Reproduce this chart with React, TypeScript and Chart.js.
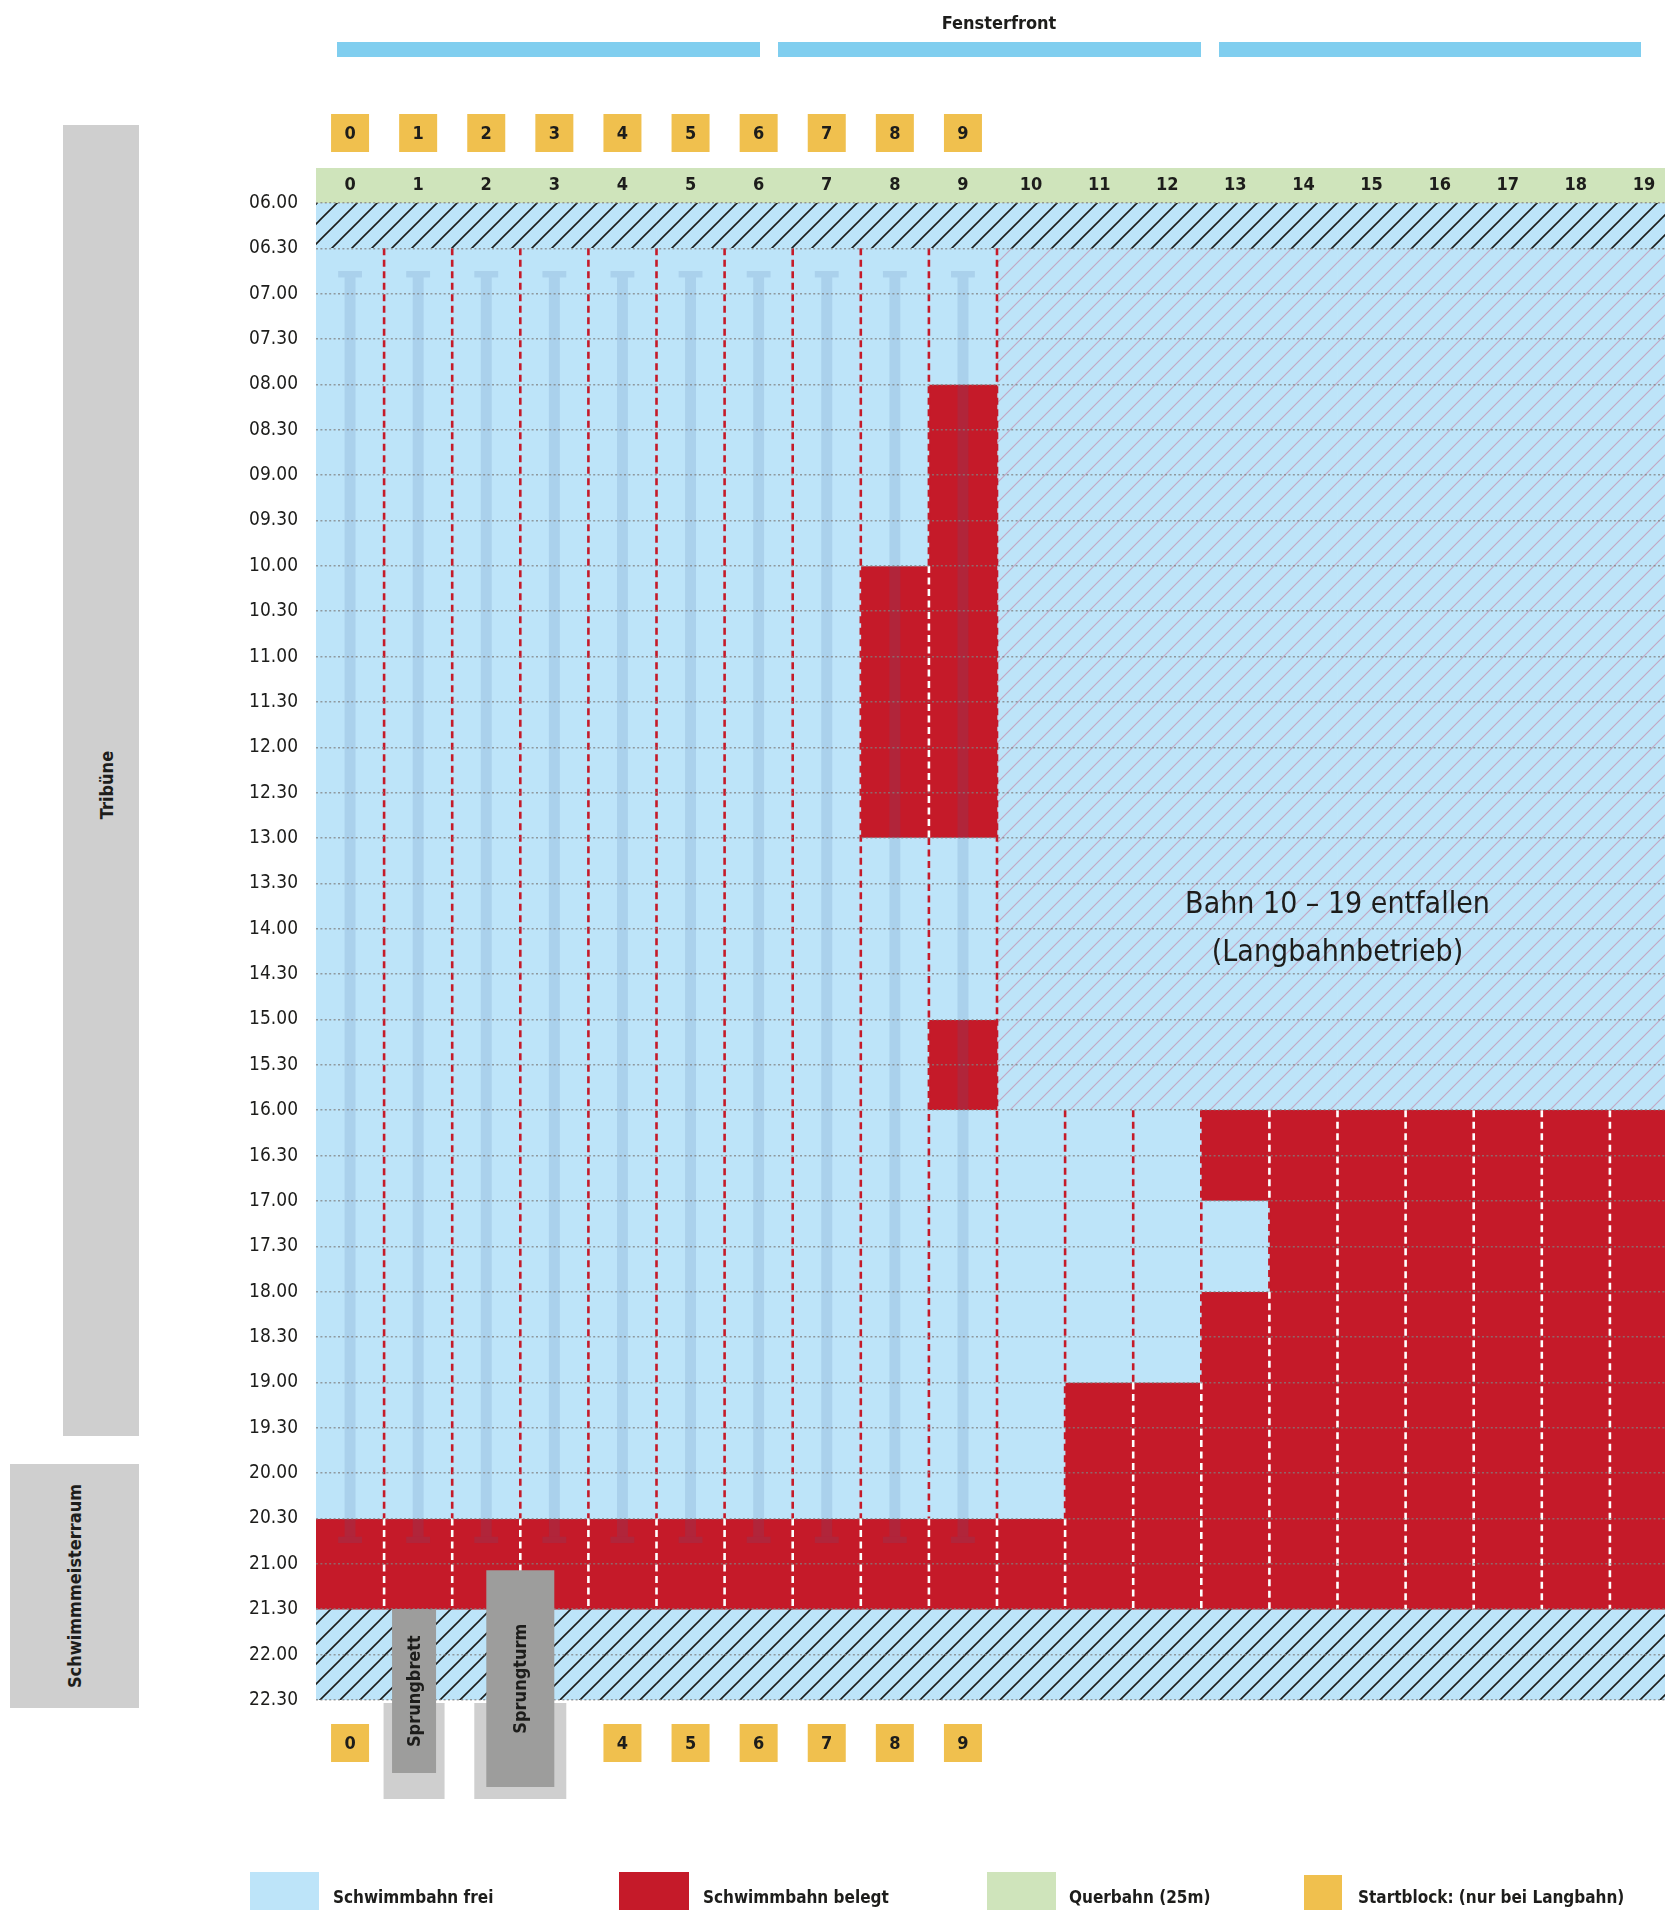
import { useEffect, useRef } from 'react'
import { Chart, registerables } from 'chart.js'

Chart.register(...registerables)

// ─── Data ───────────────────────────────────────────────────────────────────

const LANES = ['0', '1', '2', '3', '4', '5', '6', '7', '8', '9',
  '10', '11', '12', '13', '14', '15', '16', '17', '18', '19']

const TIME_LABELS = [
  '06.00', '06.30', '07.00', '07.30', '08.00', '08.30', '09.00', '09.30',
  '10.00', '10.30', '11.00', '11.30', '12.00', '12.30', '13.00', '13.30',
  '14.00', '14.30', '15.00', '15.30', '16.00', '16.30', '17.00', '17.30',
  '18.00', '18.30', '19.00', '19.30', '20.00', '20.30', '21.00', '21.30',
  '22.00', '22.30',
]
const DAY_START = 6     // 06.00
const DAY_END = 22.5    // 22.30

// [lane, from, to] in hours
const FREE_SLOTS: [number, number, number][] = [
  [0, 6.5, 20.5], [1, 6.5, 20.5], [2, 6.5, 20.5], [3, 6.5, 20.5],
  [4, 6.5, 20.5], [5, 6.5, 20.5], [6, 6.5, 20.5], [7, 6.5, 20.5],
  [8, 6.5, 10], [8, 13, 20.5],
  [9, 6.5, 8], [9, 13, 15], [9, 16, 20.5],
  [10, 16, 20.5], [11, 16, 19], [12, 16, 19], [13, 17, 18],
]

const BUSY_SLOTS: [number, number, number][] = [
  [0, 20.5, 21.5], [1, 20.5, 21.5], [2, 20.5, 21.5], [3, 20.5, 21.5],
  [4, 20.5, 21.5], [5, 20.5, 21.5], [6, 20.5, 21.5], [7, 20.5, 21.5],
  [8, 10, 13], [8, 20.5, 21.5],
  [9, 8, 13], [9, 15, 16], [9, 20.5, 21.5],
  [10, 20.5, 21.5], [11, 19, 21.5], [12, 19, 21.5],
  [13, 16, 17], [13, 18, 21.5],
  [14, 16, 21.5], [15, 16, 21.5], [16, 16, 21.5],
  [17, 16, 21.5], [18, 16, 21.5], [19, 16, 21.5],
]

// pool closed for all lanes
const CLOSED_PERIODS: [number, number][] = [[6, 6.5], [21.5, 22.5]]

// lanes 10–19 dropped during long-course operation
const DROPPED_LANES = [10, 11, 12, 13, 14, 15, 16, 17, 18, 19]
const DROPPED_PERIOD: [number, number] = [6.5, 16]

// floor markings of the long-course lanes (T-ends)
const MARKED_LANES = [0, 1, 2, 3, 4, 5, 6, 7, 8, 9]
const MARKING_FROM = 6.75
const MARKING_TO = 20.77
const MARKING_CAP = 0.07

const STARTBLOCKS_TOP = [0, 1, 2, 3, 4, 5, 6, 7, 8, 9]
const STARTBLOCKS_BOTTOM = [0, 4, 5, 6, 7, 8, 9]

const DIVING = [
  { label: 'Sprungbrett', lane: 0.94, from: 21.5 },
  { label: 'Sprungturm', lane: 2.5, from: 21.07 },
]

const LEGEND_LABELS = ['Schwimmbahn frei', 'Schwimmbahn belegt', 'Querbahn (25m)', 'Startblock: (nur bei Langbahn)']

// ─── Styles ─────────────────────────────────────────────────────────────────

const FONT = '"Liberation Sans Narrow", "DejaVu Sans Condensed", "Arial Narrow", sans-serif'
const FREE_COLOR = '#bde4f9'
const BUSY_COLOR = '#c51a29'
const QUER_COLOR = '#cfe4bb'
const BLOCK_COLOR = '#f0c04e'
const WINDOW_COLOR = '#80ceef'
const ROOM_COLOR = '#cfcfcf'
const TEXT_COLOR = '#1d1d1b'
const MARKING_COLOR = 'rgba(70, 100, 160, 0.15)'
const LEGEND_COLORS = [FREE_COLOR, BUSY_COLOR, QUER_COLOR, BLOCK_COLOR]

// ─── Helpers ────────────────────────────────────────────────────────────────

function hatch(bg: string, line: string, width: number): CanvasPattern {
  const c = document.createElement('canvas')
  c.width = 20
  c.height = 20
  const g = c.getContext('2d')!
  g.fillStyle = bg
  g.fillRect(0, 0, 20, 20)
  g.strokeStyle = line
  g.lineWidth = width
  g.beginPath()
  g.moveTo(-2, 22); g.lineTo(22, -2)
  g.moveTo(-2, 2); g.lineTo(2, -2)
  g.moveTo(18, 22); g.lineTo(22, 18)
  g.stroke()
  return g.createPattern(c, 'repeat')!
}

const cells = (rows: [number, number, number][]) =>
  rows.map(([lane, a, b]) => ({ x: LANES[lane], y: [a, b] }))

function laneStatus(lane: number, t: number): 'free' | 'busy' | 'off' {
  const inside = (s: [number, number, number]) => s[0] === lane && t >= s[1] && t < s[2]
  if (BUSY_SLOTS.some(inside)) return 'busy'
  if (FREE_SLOTS.some(inside)) return 'free'
  return 'off'
}

// dashed lane ropes: red over water, white where both neighbours are booked
function laneDividers() {
  const red: { x: number; y: number | null }[] = []
  const white: { x: number; y: number | null }[] = []
  for (let b = 1; b < LANES.length; b++) {
    const x = b - 0.5
    let cur: string | null = null
    let start = 0
    const flush = (end: number) => {
      if (!cur) return
      const arr = cur === 'white' ? white : red
      arr.push({ x, y: start }, { x, y: end }, { x, y: null })
    }
    for (let i = 0; i < TIME_LABELS.length - 1; i++) {
      const t = DAY_START + i / 2
      const l = laneStatus(b - 1, t + 0.25)
      const r = laneStatus(b, t + 0.25)
      const c = l === 'off' && r === 'off' ? null : l === 'busy' && r === 'busy' ? 'white' : 'red'
      if (c !== cur) {
        flush(t)
        cur = c
        start = t
      }
    }
    flush(DAY_END)
  }
  return { red, white }
}

// ─── Decorations drawn on the chart canvas ──────────────────────────────────

const poolDecor = {
  id: 'poolDecor',
  afterDraw(chart: Chart) {
    const { ctx, chartArea } = chart
    const xb = chart.scales.xb
    const y = chart.scales.y
    ctx.save()

    // start blocks
    ctx.font = `bold 18px ${FONT}`
    ctx.textAlign = 'center'
    ctx.textBaseline = 'middle'
    const block = (lane: number, cy: number) => {
      const cx = xb.getPixelForValue(lane)
      ctx.fillStyle = BLOCK_COLOR
      ctx.fillRect(cx - 19, cy - 19, 38, 38)
      ctx.fillStyle = TEXT_COLOR
      ctx.fillText(String(lane), cx, cy + 1)
    }
    STARTBLOCKS_TOP.forEach(l => block(l, chartArea.top - 70))
    STARTBLOCKS_BOTTOM.forEach(l => block(l, chartArea.bottom + 43))

    // diving board + tower
    const sizes = [
      { w: 44, bottom: 73, base: 61 },
      { w: 68, bottom: 87, base: 92 },
    ]
    DIVING.forEach((d, i) => {
      const s = sizes[i]
      const cx = xb.getPixelForValue(d.lane)
      const top = y.getPixelForValue(d.from)
      const bot = chartArea.bottom + s.bottom
      ctx.fillStyle = ROOM_COLOR
      ctx.fillRect(cx - s.base / 2, chartArea.bottom + 3, s.base, 96)
      ctx.fillStyle = '#9d9d9c'
      ctx.fillRect(cx - s.w / 2, top, s.w, bot - top)
      ctx.save()
      ctx.translate(cx, (top + bot) / 2)
      ctx.rotate(-Math.PI / 2)
      ctx.fillStyle = TEXT_COLOR
      ctx.fillText(d.label, 0, 1)
      ctx.restore()
    })

    // note over the dropped lanes
    const mid = DROPPED_LANES.reduce((a, b) => a + b, 0) / DROPPED_LANES.length
    const nx = xb.getPixelForValue(mid)
    const ny = y.getPixelForValue(14)
    ctx.font = `30px ${FONT}`
    ctx.fillStyle = TEXT_COLOR
    ctx.fillText('Bahn 10 – 19 entfallen', nx, ny - 24)
    ctx.fillText('(Langbahnbetrieb)', nx, ny + 24)

    ctx.restore()
  },
}

// ─── Component ──────────────────────────────────────────────────────────────

export default function App() {
  const canvasRef = useRef<HTMLCanvasElement>(null)

  useEffect(() => {
    const canvas = canvasRef.current
    if (!canvas) return

    const closedFill = hatch(FREE_COLOR, '#1d1d1b', 1.6)
    const droppedFill = hatch(FREE_COLOR, 'rgba(196, 128, 160, 0.6)', 1.2)
    const { red, white } = laneDividers()

    const closed = LANES.flatMap((lane) => CLOSED_PERIODS.map(p => ({ x: lane, y: p })))
    const dropped = DROPPED_LANES.map(l => ({ x: LANES[l], y: DROPPED_PERIOD }))

    const cellBar = {
      type: 'bar' as const,
      grouped: false,
      barPercentage: 1,
      categoryPercentage: 1,
      borderWidth: 0,
      order: 10,
    }

    Chart.defaults.font.family = FONT

    const chart = new Chart(canvas, {
      type: 'bar',
      data: {
        labels: LANES,
        datasets: [
          { ...cellBar, label: 'frei', data: cells(FREE_SLOTS), backgroundColor: FREE_COLOR },
          { ...cellBar, label: 'belegt', data: cells(BUSY_SLOTS), backgroundColor: BUSY_COLOR },
          { ...cellBar, label: 'geschlossen', data: closed, backgroundColor: closedFill },
          { ...cellBar, label: 'entfallen', data: dropped, backgroundColor: droppedFill },
          {
            ...cellBar, label: 'Markierung', order: 8, barPercentage: 0.16,
            data: MARKED_LANES.map(l => ({ x: LANES[l], y: [MARKING_FROM + MARKING_CAP, MARKING_TO - MARKING_CAP] })),
            backgroundColor: MARKING_COLOR,
          },
          {
            ...cellBar, label: 'Markierung Ende', order: 8, barPercentage: 0.35,
            data: MARKED_LANES.flatMap(l => [
              { x: LANES[l], y: [MARKING_FROM, MARKING_FROM + MARKING_CAP] },
              { x: LANES[l], y: [MARKING_TO - MARKING_CAP, MARKING_TO] },
            ]),
            backgroundColor: MARKING_COLOR,
          },
          {
            type: 'line', label: 'Leine', xAxisID: 'xb', data: red, order: 2,
            borderColor: '#c51a29', borderWidth: 2.6, borderDash: [7, 4.5],
            pointRadius: 0, tension: 0, fill: false, spanGaps: false,
          },
          {
            type: 'line', label: 'Leine belegt', xAxisID: 'xb', data: white, order: 1,
            borderColor: '#ffffff', borderWidth: 2.6, borderDash: [7, 4.5],
            pointRadius: 0, tension: 0, fill: false, spanGaps: false,
          },
        ] as any,
      },
      options: {
        animation: false,
        responsive: false,
        events: [],
        layout: { padding: { top: 168, bottom: 210, left: 0, right: 0 } },
        plugins: {
          legend: { display: false },
          tooltip: { enabled: false },
        },
        scales: {
          x: {
            type: 'category',
            position: 'top',
            offset: true,
            backgroundColor: QUER_COLOR,
            grid: { display: false, drawTicks: false },
            border: { display: false },
            ticks: {
              color: TEXT_COLOR,
              font: { size: 18, weight: 'bold' },
              padding: 7,
              autoSkip: false,
              maxRotation: 0,
            },
            afterFit: (s: any) => { s.height = 35 },
          },
          xb: {
            type: 'linear',
            display: false,
            offset: false,
            grid: { offset: false },
            min: -0.5,
            max: LANES.length - 0.5,
          },
          y: {
            type: 'linear',
            reverse: true,
            min: DAY_START,
            max: DAY_END,
            afterBuildTicks: (s: any) => {
              s.ticks = TIME_LABELS.map((_, i) => ({ value: DAY_START + i / 2 }))
            },
            afterFit: (s: any) => { s.width = 316 },
            grid: { color: 'rgba(128, 128, 128, 0.75)', lineWidth: 1.6, drawTicks: false, z: 1 },
            border: { display: false, dash: [2, 2.4] },
            ticks: {
              color: TEXT_COLOR,
              font: { size: 19 },
              padding: 18,
              autoSkip: false,
              callback: (v: any) => TIME_LABELS[Math.round((Number(v) - DAY_START) * 2)],
            },
          },
        } as any,
      },
      plugins: [poolDecor],
    })

    return () => chart.destroy()
  }, [])

  const bold = { fontFamily: FONT, fontWeight: 'bold' as const, fontSize: 18, color: TEXT_COLOR }
  const rotated = (cx: number, cy: number) => ({
    ...bold,
    position: 'absolute' as const,
    left: cx,
    top: cy,
    transform: 'translate(-50%, -50%) rotate(-90deg)',
    whiteSpace: 'nowrap' as const,
  })

  const windows = [[337, 760], [778, 1201], [1219, 1641]]
  const legendPos = [
    { x: 250, w: 69, top: 1872, tx: 333 },
    { x: 619, w: 70, top: 1872, tx: 703 },
    { x: 987, w: 69, top: 1872, tx: 1069 },
    { x: 1304, w: 38, top: 1875, tx: 1358 },
  ]

  return (
    <div style={{ position: 'absolute', left: 0, top: 0, width: 1665, height: 1910, overflow: 'hidden', background: '#fff' }}>
      <canvas ref={canvasRef} width={1678} height={1910}
        style={{ position: 'absolute', left: 0, top: 0, width: 1678, height: 1910, display: 'block' }} />

      <div style={{ ...bold, position: 'absolute', left: 999, top: 22, transform: 'translate(-50%, -50%)', whiteSpace: 'nowrap' }}>
        Fensterfront
      </div>
      {windows.map(([a, b]) => (
        <div key={a} style={{ position: 'absolute', left: a, top: 42, width: b - a, height: 15, background: WINDOW_COLOR }} />
      ))}

      <div style={{ position: 'absolute', left: 63, top: 125, width: 76, height: 1311, background: ROOM_COLOR }} />
      <div style={rotated(106, 785)}>Tribüne</div>

      <div style={{ position: 'absolute', left: 10, top: 1464, width: 129, height: 244, background: ROOM_COLOR }} />
      <div style={rotated(74, 1586)}>Schwimmmeisterraum</div>

      {LEGEND_LABELS.map((label, i) => {
        const p = legendPos[i]
        return (
          <div key={label}>
            <div style={{ position: 'absolute', left: p.x, top: p.top, width: p.w, height: 1910 - p.top, background: LEGEND_COLORS[i] }} />
            <div style={{ ...bold, fontSize: 17, position: 'absolute', left: p.tx, top: 1885, lineHeight: '24px', whiteSpace: 'nowrap' }}>{label}</div>
          </div>
        )
      })}
    </div>
  )
}
